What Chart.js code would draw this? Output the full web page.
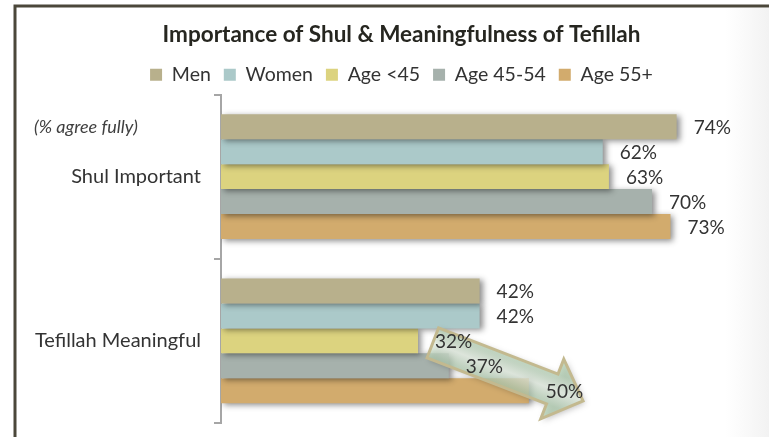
<!DOCTYPE html>
<html>
<head>
<meta charset="utf-8">
<script src="https://cdn.jsdelivr.net/npm/chart.js@4/dist/chart.umd.min.js"></script>
<style>
  html, body { margin: 0; padding: 0; background: #ffffff; }
  #c { display: block; }
</style>
</head>
<body>
<canvas id="c" width="769" height="437"></canvas>
<script>
// ---- Data ----
const categories = ['Shul Important', 'Tefillah Meaningful'];
const seriesNames = ['Men', 'Women', 'Age <45', 'Age 45-54', 'Age 55+'];
const men      = [74, 42];
const women    = [62, 42];
const ageUnder45 = [63, 32];
const age45to54  = [70, 37];
const age55plus  = [73, 50];
const seriesColors = ['#B8B08C', '#ABC9C9', '#DCD37F', '#A6B1AC', '#D2AB6D'];
const chartTitle = 'Importance of Shul & Meaningfulness of Tefillah';
const noteText = '(% agree fully)';
// arrow annotation (value units on x, offset from category center on y)
const arrowFrom = [34.4, 2];
const arrowTo   = [58.8, 60];

const FONT = 'Lato';
const seriesValues = [men, women, ageUnder45, age45to54, age55plus];

const datasets = seriesNames.map((name, i) => ({
  label: name,
  data: seriesValues[i],
  backgroundColor: seriesColors[i],
  borderWidth: 0,
  categoryPercentage: 0.76,
  barPercentage: 1.0
}));

const decorPlugin = {
  id: 'decor',
  beforeDraw(chart) {
    const ctx = chart.ctx;
    const W = chart.width, H = chart.height;
    ctx.save();
    ctx.fillStyle = '#ffffff';
    ctx.fillRect(0, 0, W, H);
    const g = ctx.createLinearGradient(725, 0, W, 0);
    g.addColorStop(0, 'rgba(244,244,244,0)');
    g.addColorStop(1, 'rgba(242,242,242,1)');
    ctx.fillStyle = g;
    ctx.fillRect(725, 8, W - 725, H);
    // frame
    ctx.strokeStyle = '#4b473a';
    ctx.lineWidth = 3;
    ctx.beginPath();
    ctx.moveTo(15, H);
    ctx.lineTo(15, 6);
    ctx.lineTo(W, 6);
    ctx.stroke();
    ctx.restore();
  },
  afterDraw(chart) {
    const ctx = chart.ctx;
    ctx.save();
    ctx.font = 'italic 18px ' + FONT;
    ctx.fillStyle = '#404040';
    ctx.textBaseline = 'middle';
    ctx.textAlign = 'left';
    ctx.fillText(noteText, 34, 127);
    ctx.restore();
  },
  beforeDatasetsDraw(chart) {
    const ctx = chart.ctx;
    ctx.save();
    ctx.shadowColor = 'rgba(0,0,0,0.45)';
    ctx.shadowBlur = 6;
    ctx.shadowOffsetX = 3;
    ctx.shadowOffsetY = 2;
  },
  afterDatasetsDraw(chart) {
    const ctx = chart.ctx;
    ctx.restore();
    // arrow annotation
    const xs = chart.scales.x, ys = chart.scales.y;
    const yc = ys.getPixelForValue(1);
    const x0 = xs.getPixelForValue(arrowFrom[0]), y0 = yc + arrowFrom[1];
    const x1 = xs.getPixelForValue(arrowTo[0]),   y1 = yc + arrowTo[1];
    const L = Math.hypot(x1 - x0, y1 - y0);
    const ang = Math.atan2(y1 - y0, x1 - x0);
    const sw = 16, hw = 32, hl = 33;
    ctx.save();
    ctx.translate(x0, y0);
    ctx.rotate(ang);
    ctx.beginPath();
    ctx.moveTo(0, -sw);
    ctx.lineTo(L - hl, -sw);
    ctx.lineTo(L - hl, -hw);
    ctx.lineTo(L, 0);
    ctx.lineTo(L - hl, hw);
    ctx.lineTo(L - hl, sw);
    ctx.lineTo(0, sw);
    ctx.closePath();
    const gr = ctx.createLinearGradient(0, -sw, 0, sw);
    gr.addColorStop(0, 'rgba(175,205,175,0.72)');
    gr.addColorStop(0.5, 'rgba(232,243,230,0.72)');
    gr.addColorStop(1, 'rgba(175,205,175,0.72)');
    ctx.shadowColor = 'rgba(0,0,0,0.35)';
    ctx.shadowBlur = 6;
    ctx.shadowOffsetX = 2;
    ctx.shadowOffsetY = 2;
    ctx.fillStyle = gr;
    ctx.fill();
    ctx.shadowColor = 'rgba(0,0,0,0)';
    ctx.strokeStyle = '#C3B98F';
    ctx.lineWidth = 3;
    ctx.lineJoin = 'miter';
    ctx.stroke();
    ctx.restore();
    // value labels
    ctx.save();
    ctx.font = '19px ' + FONT;
    ctx.fillStyle = '#333333';
    ctx.textBaseline = 'middle';
    ctx.textAlign = 'left';
    chart.data.datasets.forEach((ds, di) => {
      const meta = chart.getDatasetMeta(di);
      meta.data.forEach((el, i) => {
        ctx.fillText(ds.data[i] + '%', el.x + 17, el.y + 1);
      });
    });
    ctx.restore();
  }
};

new Chart(document.getElementById('c'), {
  type: 'bar',
  data: { labels: categories, datasets },
  plugins: [decorPlugin],
  options: {
    indexAxis: 'y',
    responsive: false,
    animation: false,
    layout: { padding: { left: 34, right: 0, top: 0, bottom: 14 } },
    scales: {
      x: { display: false, min: 0, max: 89 },
      y: {
        afterFit(scale) { scale.width = 187; scale.paddingTop = 0; scale.paddingBottom = 0; },
        ticks: { font: { family: FONT, size: 20 }, color: '#333333', padding: 13 },
        grid: { display: true, drawOnChartArea: false, drawTicks: true, tickLength: 7, color: '#A6A6A6', lineWidth: 2, offset: true },
        border: { display: true, color: '#A6A6A6', width: 2 }
      }
    },
    plugins: {
      title: {
        display: true,
        text: chartTitle,
        color: '#262620',
        font: { family: FONT, size: 22.5, weight: 'bold' },
        padding: { top: 21.5, bottom: 3.5 }
      },
      legend: {
        display: true,
        position: 'top',
        labels: {
          boxWidth: 12, boxHeight: 12,
          color: '#333333',
          font: { family: FONT, size: 19.5 },
          padding: 13
        }
      },
      tooltip: { enabled: false }
    }
  }
});
</script>
</body>
</html>
